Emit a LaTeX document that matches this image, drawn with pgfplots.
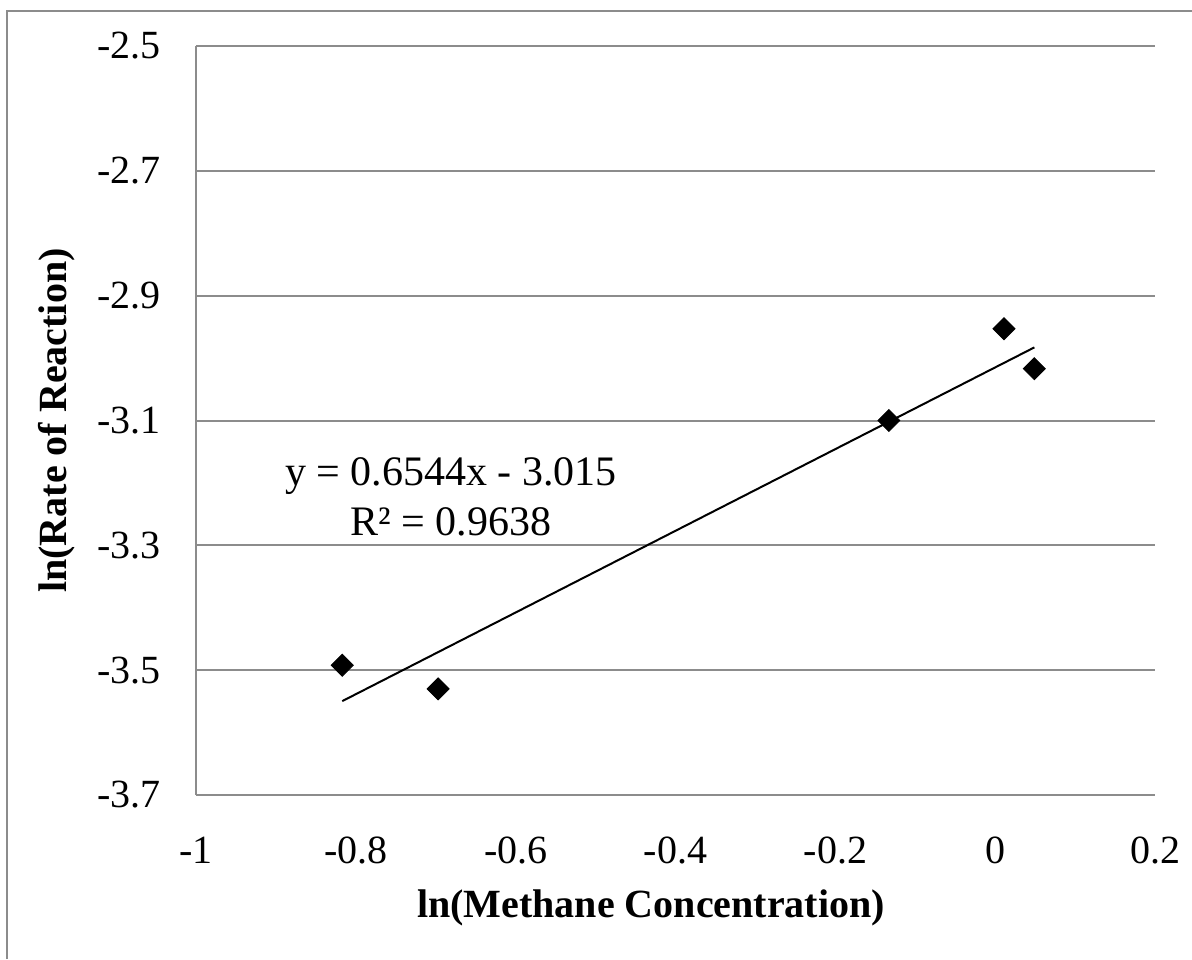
\documentclass[border=0pt]{standalone}
\usepackage{pgfplots}
\pgfplotsset{compat=1.18}
\usepackage{fontspec}
\setmainfont{Liberation Serif}
\begin{document}
\begin{tikzpicture}
\useasboundingbox (-98pt,-82pt) rectangle (498pt,397.5pt);
\draw[color=black!45, line width=1.3pt] (-94.5pt,-82pt) -- (-94.5pt,392pt) -- (498pt,392pt);
\begin{axis}[
  at={(0pt,0pt)}, anchor=south west,
  scale only axis, width=479.5pt, height=374.5pt,
  xmin=-1, xmax=0.2, ymin=-3.7, ymax=-2.5,
  xtick={-1,-0.8,-0.6,-0.4,-0.2,0,0.2},
  ytick={-3.7,-3.5,-3.3,-3.1,-2.9,-2.7,-2.5},
  xticklabels={-1,-0.8,-0.6,-0.4,-0.2,0,0.2},
  yticklabels={-3.7,-3.5,-3.3,-3.1,-2.9,-2.7,-2.5},
  major tick length=0pt,
  axis x line*=bottom, axis y line*=left,
  axis line style={color=black!45, line width=1pt, -},
  ymajorgrids, grid style={color=black!45, line width=1pt},
  tick label style={font=\fontsize{20}{22}\selectfont},
  xticklabel style={anchor=center, inner sep=0pt, yshift=-27.5pt},
  yticklabel style={anchor=east, inner sep=0pt, xshift=-17.5pt},
  xlabel={\textbf{ln(Methane Concentration)}},
  ylabel={\textbf{ln(Rate of Reaction)}},
  label style={font=\fontsize{20}{22}\selectfont},
  xlabel style={at={(axis description cs:0.4745,-0.1509)}, anchor=center},
  ylabel style={at={(axis description cs:-0.1449,0.5)}, anchor=center},
  clip=false,
]
\addplot[only marks, mark=square*, mark size=3.9pt, mark options={rotate=45, fill=black, draw=black}]
  coordinates {(-0.817,-3.492) (-0.697,-3.530) (-0.133,-3.100) (0.011,-2.953) (0.049,-3.017)};
\addplot[black, line width=1pt] coordinates {(-0.817,-3.5496) (0.049,-2.9829)};
\node[align=center, font=\fontsize{21}{25}\selectfont] at (axis cs:-0.681,-3.2225)
  {y = 0.6544x - 3.015\\R² = 0.9638};
\end{axis}
\end{tikzpicture}
\end{document}
